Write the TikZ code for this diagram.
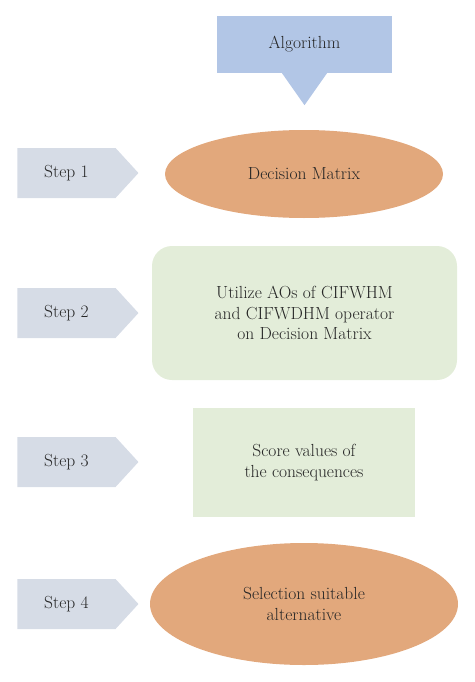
\documentclass[tikz,border=0pt]{standalone}
\usepackage{tikz}
\usetikzlibrary{shapes.geometric,shapes.symbols}
\definecolor{algoblue}{RGB}{178,198,230}
\definecolor{stepgray}{RGB}{214,220,230}
\definecolor{ovalorange}{RGB}{226,168,124}
\definecolor{boxgreen}{RGB}{227,237,217}
\tikzset{every node/.style={font=\fontsize{17.5}{20.5}\selectfont, align=center, inner sep=0pt, text=black!85},
  stepsign/.style={signal, signal to=east, signal pointer angle=95, fill=stepgray, minimum width=121pt, minimum height=50pt},
  algobox/.style={rectangle, fill=algoblue, minimum width=175pt, minimum height=57pt},
  ovalbox/.style={ellipse, fill=ovalorange},
  greenbox/.style={rectangle, fill=boxgreen}}

\begin{document}
\begin{tikzpicture}[x=1pt,y=-1pt]
   \useasboundingbox (0,0) rectangle (474,682);
   % algorithm header with its arrow
   \node[algobox] (algo) at (304.5,44.5) {Algorithm};
   \fill[algoblue] ([xshift=-22.5pt]algo.south) -- ([xshift=22.5pt]algo.south) -- ([yshift=-32pt]algo.south) -- cycle;
   % steps
   \node[stepsign] (s1) at (66.5,173) {Step 1};
   \node[stepsign] (s2) at (66.5,313) {Step 2};
   \node[stepsign] (s3) at (66.5,462) {Step 3};
   \node[stepsign] (s4) at (66.5,604) {Step 4};
   % contents
   \node[ovalbox, minimum width=278pt, minimum height=88pt] (dm) at (304,174) {Decision Matrix};
   \node[greenbox, rounded corners=20pt, minimum width=305pt, minimum height=134pt] (ao) at (304.5,313) {Utilize AOs of CIFWHM\\and CIFWDHM operator\\on Decision Matrix};
   \node[greenbox, minimum width=222pt, minimum height=109pt] (sv) at (304,462.5) {Score values of\\the consequences};
   \node[ovalbox, minimum width=308pt, minimum height=122pt] (sa) at (304,604) {Selection suitable\\alternative};
\end{tikzpicture}
\end{document}
